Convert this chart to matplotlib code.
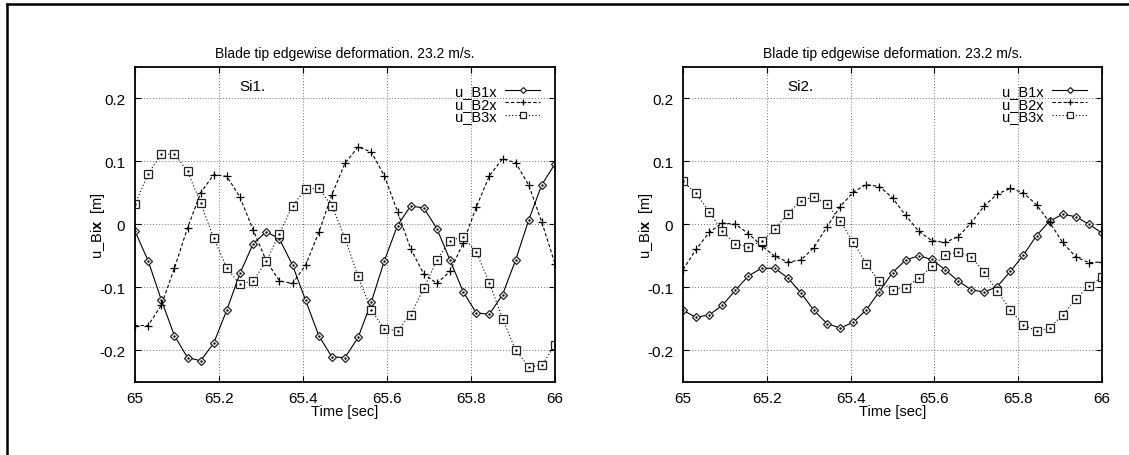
import numpy as np
import matplotlib
matplotlib.use("Agg")
import matplotlib.pyplot as plt
from matplotlib.lines import Line2D

plt.rcParams['font.family'] = ['Liberation Sans', 'DejaVu Sans']
plt.rcParams['axes.unicode_minus'] = False
plt.rcParams['mathtext.fontset'] = 'custom'
plt.rcParams['mathtext.rm'] = 'Liberation Sans'
plt.rcParams['mathtext.bf'] = 'Liberation Sans:bold'

time = np.linspace(65.0, 66.0, 33)

si1_b1 = [-0.011, -0.058, -0.120, -0.177, -0.212, -0.217, -0.189, -0.136, -0.078, -0.031,
          -0.012, -0.023, -0.065, -0.121, -0.177, -0.211, -0.212, -0.180, -0.124, -0.058,
          -0.002, 0.029, 0.026, -0.007, -0.057, -0.107, -0.141, -0.143, -0.112, -0.057,
          0.007, 0.063, 0.096]
si1_b2 = [-0.161, -0.161, -0.129, -0.070, -0.006, 0.050, 0.079, 0.076, 0.043, -0.009,
          -0.058, -0.090, -0.094, -0.065, -0.013, 0.047, 0.097, 0.123, 0.115, 0.077,
          0.020, -0.039, -0.079, -0.094, -0.075, -0.030, 0.027, 0.077, 0.104, 0.098,
          0.062, 0.003, -0.063]
si1_b3 = [0.032, 0.080, 0.111, 0.112, 0.084, 0.034, -0.022, -0.070, -0.095, -0.090,
          -0.059, -0.015, 0.029, 0.056, 0.057, 0.029, -0.022, -0.083, -0.136, -0.167,
          -0.169, -0.144, -0.102, -0.057, -0.026, -0.020, -0.044, -0.093, -0.150, -0.200,
          -0.227, -0.224, -0.192]

si2_b1 = [-0.137, -0.148, -0.144, -0.129, -0.105, -0.082, -0.070, -0.070, -0.085, -0.109,
          -0.137, -0.158, -0.165, -0.156, -0.136, -0.107, -0.077, -0.057, -0.050, -0.056,
          -0.072, -0.090, -0.104, -0.108, -0.099, -0.075, -0.049, -0.018, 0.005, 0.016,
          0.012, 0.000, -0.014]
si2_b2 = [-0.072, -0.040, -0.013, 0.002, 0.000, -0.015, -0.034, -0.051, -0.060, -0.057,
          -0.037, -0.004, 0.028, 0.051, 0.063, 0.060, 0.042, 0.014, -0.011, -0.026,
          -0.029, -0.020, 0.002, 0.029, 0.048, 0.057, 0.050, 0.031, 0.003, -0.029,
          -0.052, -0.061, -0.060]
si2_b3 = [0.068, 0.049, 0.020, -0.011, -0.031, -0.036, -0.027, -0.008, 0.017, 0.037,
          0.044, 0.032, 0.005, -0.028, -0.063, -0.091, -0.104, -0.101, -0.086, -0.067,
          -0.049, -0.044, -0.052, -0.076, -0.106, -0.136, -0.160, -0.170, -0.165, -0.144,
          -0.119, -0.098, -0.084]

series_labels = ["u_B1x", "u_B2x", "u_B3x"]
panel_names = ["Si1.", "Si2."]
title_text = "Blade tip edgewise deformation. 23.2 m/s."
xticks = [65, 65.2, 65.4, 65.6, 65.8, 66]
xticklabels = ["65", "65.2", "65.4", "65.6", "65.8", "66"]
yticks = [-0.2, -0.1, 0, 0.1, 0.2]
yticklabels = ["-0.2", "-0.1", "0", "0.1", "0.2"]

fig = plt.figure(figsize=(11.29, 4.56), dpi=100)
W, H = 1129, 456
axL = fig.add_axes([135 / W, 1 - 382.5 / H, 420 / W, 314.5 / H])
axR = fig.add_axes([683 / W, 1 - 382.5 / H, 419 / W, 314.5 / H])

# partial figure frame (top and left)
fig.add_artist(Line2D([7 / W, 7 / W], [0, 1 - 5 / H], color='black', lw=1.8,
                      transform=fig.transFigure))
fig.add_artist(Line2D([7 / W, 1], [1 - 5 / H, 1 - 5 / H], color='black', lw=1.8,
                      transform=fig.transFigure))

styles = [
    dict(ls='-', marker='D', ms=3.8, mfc='white', mec='#222222', mew=0.9),
    dict(ls=(0, (3, 2)), marker='+', ms=5.5, mec='black', mew=0.9),
    dict(ls=(0, (1, 2)), marker='s', ms=5.5, mfc='white', mec='#222222', mew=0.9),
]

for ax, data, name in [(axL, [si1_b1, si1_b2, si1_b3], panel_names[0]),
                       (axR, [si2_b1, si2_b2, si2_b3], panel_names[1])]:
    for vals, lab, st in zip(data, series_labels, styles):
        ax.plot(time, vals, color='black', lw=0.8, label=lab, **st)
        if st['marker'] in ('D', 's'):
            ax.plot(time, vals, ls='none', marker='.', ms=1.4, color='black')
    ax.set_xlim(65, 66)
    ax.set_ylim(-0.25, 0.25)
    ax.set_xticks(xticks)
    ax.set_xticklabels(xticklabels)
    ax.set_yticks(yticks)
    ax.set_yticklabels(yticklabels)
    ax.tick_params(direction='in', length=4, width=0.8, top=True, right=True,
                   labelsize=11, pad=7)
    ax.grid(True, ls=(0, (1, 2)), color='0.45', lw=0.7)
    for sp in ax.spines.values():
        sp.set_linewidth(1.3)
    ax.set_title(title_text, fontsize=10, pad=7)
    ax.set_xlabel("Time [sec]", fontsize=10.5)
    ax.xaxis.label.set_va('center')
    ax.xaxis.set_label_coords(0.5, -0.095)
    ax.set_ylabel(r"u_Bi$\mathbf{x}$  [m]", fontsize=10.5)
    ax.yaxis.label.set_va('center')
    ax.yaxis.set_label_coords(-0.089, 0.5)
    ax.text(65.28, 0.219, name, fontsize=11, ha='center', va='center')
    leg = ax.legend(loc='upper right', bbox_to_anchor=(0.965, 0.945), frameon=False,
                    markerfirst=False, fontsize=10.5, labelspacing=-0.12, handlelength=2.4,
                    handletextpad=0.6, borderaxespad=0.0, borderpad=0.0, numpoints=1,
                    markerscale=0.8)

fig.savefig("out.png", dpi=100)
